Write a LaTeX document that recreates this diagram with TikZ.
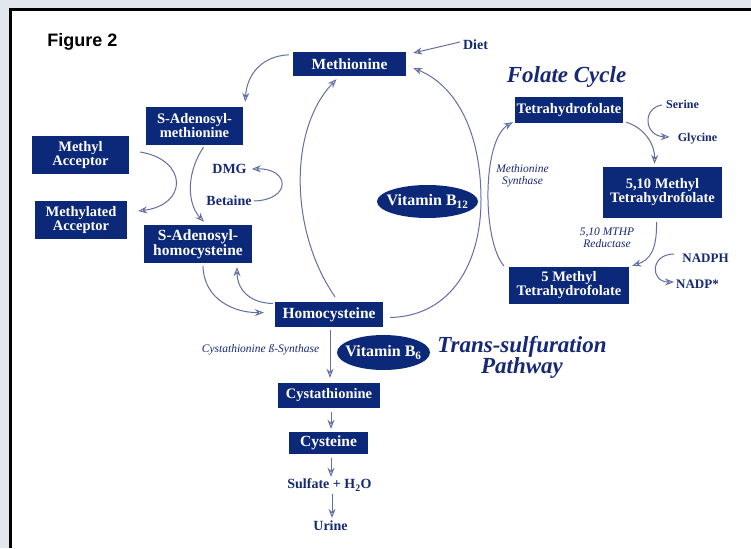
\documentclass[tikz,border=0pt]{standalone}
\usepackage{fontspec}
\setmainfont{Liberation Serif}
\newfontfamily\figsans{Liberation Sans}
\usetikzlibrary{arrows.meta,calc,shapes.geometric}
\definecolor{navy}{RGB}{12,40,120}
\definecolor{labnavy}{RGB}{22,40,118}
\definecolor{linec}{RGB}{100,110,162}
\definecolor{bgout}{RGB}{228,230,238}
\begin{document}
\begin{tikzpicture}[x=1pt,y=-1pt,
  box/.style={fill=navy, text=white, inner sep=0pt, align=center, font=\fontsize{14.5}{14}\selectfont\bfseries},
  boxl/.style={box, font=\fontsize{15.5}{14}\selectfont\bfseries},
  vit/.style={ellipse, fill=navy, text=white, inner xsep=-9pt, inner ysep=0pt, font=\fontsize{16}{16}\selectfont\bfseries},
  lab/.style={text=labnavy, inner sep=0pt, font=\fontsize{14}{14}\selectfont\bfseries},
  labm/.style={text=labnavy, inner sep=0pt, font=\fontsize{13}{13}\selectfont\bfseries},
  labs/.style={text=labnavy, inner sep=0pt, font=\fontsize{12}{12}\selectfont\bfseries},
  enz/.style={text=labnavy, inner sep=0pt, align=center, font=\fontsize{11.5}{12}\selectfont\itshape},
  ttl/.style={text=labnavy, inner sep=0pt, align=center, font=\fontsize{23}{21}\selectfont\bfseries\itshape},
  arr/.style={draw=linec, line width=1pt, -{Stealth[open, length=9pt, width=7pt, inset=3pt]}}
]
\path[use as bounding box] (0,0) rectangle (751,548);
\fill[bgout] (0,0) rectangle (751,548);
\fill[white] (10,10) rectangle (751,548);
\draw[line width=3pt, black] (10,548) -- (10,10) -- (751,10);

% boxes
\node[boxl, minimum width=113pt, minimum height=24pt] (meth) at (349.5,64) {Methionine};
\node[box, minimum width=97pt, minimum height=38pt] (sam) at (194.5,126) {S-Adenosyl-\\methionine};
\node[box, minimum width=97pt, minimum height=38pt] (macc) at (80.5,155) {Methyl\\Acceptor};
\node[box, minimum width=92pt, minimum height=38pt] (mdacc) at (81,220) {Methylated\\Acceptor};
\node[boxl, minimum width=108pt, minimum height=38pt] (sah) at (198,244) {S-Adenosyl-\\homocysteine};
\node[boxl, minimum width=108pt, minimum height=25pt] (hcy) at (329,314.5) {Homocysteine};
\node[box, minimum width=108pt, minimum height=26pt] (thf) at (569,110) {Tetrahydrofolate};
\node[box, minimum width=119pt, minimum height=51pt] (mthf510) at (662.5,192.5) {5,10 Methyl\\Tetrahydrofolate};
\node[box, minimum width=120pt, minimum height=37pt] (mthf5) at (569,285.5) {5 Methyl\\Tetrahydrofolate};
\node[box, minimum width=102pt, minimum height=25pt] (cysta) at (329,395.5) {Cystathionine};
\node[boxl, minimum width=79pt, minimum height=22pt] (cys) at (328.5,443) {Cysteine};

% vitamins
\node[vit, minimum width=101pt, minimum height=33pt] (b12) at (427.5,201.5) {Vitamin B\textsubscript{12}};
\node[vit, minimum width=93pt, minimum height=35pt] (b6) at (383.5,352.5) {Vitamin B\textsubscript{6}};

% labels
\node[font=\figsans\bfseries\fontsize{18}{18}\selectfont, inner sep=0pt] (fig) at (82.5,42) {Figure 2};
\node[lab] (diet) at (475.5,45) {Diet};
\node[lab] (dmg) at (229.5,169) {DMG};
\node[lab] (betaine) at (229,201) {Betaine};
\node[labs] (serine) at (682.5,104) {Serine};
\node[labs] (glycine) at (697.5,139) {Glycine};
\node[labm] (nadph) at (705.5,258) {NADPH};
\node[labm] (nadp) at (697.5,284) {NADP*};
\node[lab] (sulf) at (329.5,485) {Sulfate + H\textsubscript{2}O};
\node[lab] (urine) at (330.5,526) {Urine};
\node[enz] (msyn) at (522.5,176) {Methionine\\Synthase};
\node[enz] (mthpr) at (607,238) {5,10 MTHP\\Reductase};
\node[enz] (cbs) at (260.5,350) {Cystathionine ß-Synthase};
\node[ttl] (folate) at (566.5,77) {Folate Cycle};
\node[ttl] (trans) at (522,357) {Trans-sulfuration\\Pathway};

% connectors
\draw[arr] ($(meth.north west)+(-4,3)$) .. controls (262,56) and (247,74) .. ($(sam.north east)+(2,-5)$);
\draw[arr] ($(sam.south)+(9,2)$) .. controls (185,175) and (188,205) .. ($(sah.north)+(6,-3)$);
\draw[arr] ($(macc.east)+(11,-3)$) .. controls (188,160) and (188,205) .. ($(mdacc.east)+(11,-9)$);
\draw[arr] ($(betaine.east)+(2,0)$) .. controls (292,200) and (290,168) .. ($(dmg.east)+(5,0)$);
\draw[arr] ($(sah.south)+(5,3)$) .. controls (204,300) and (235,313) .. ($(hcy.west)+(-11,-2)$);
\draw[arr] ($(hcy.west)+(-2,-11)$) .. controls (248,303) and (237,288) .. ($(sah.south)+(39,4)$);
\draw[arr] ($(hcy.north)+(6,-5)$) .. controls (290,232) and (288,130) .. ($(meth.south)+(-13,3)$);
\draw[arr] ($(hcy.east)+(7,3)$) .. controls (452,316) and (481,262) .. (481,200) .. controls (481,130) and (455,85) .. ($(meth.east)+(7,4)$);
\draw[arr] ($(mthf5.north west)+(-5,-1)$) .. controls (482,240) and (482,140) .. ($(thf.south west)+(-2,-1)$);
\draw[arr] ($(thf.south east)+(3,-1)$) .. controls (645,128) and (655,145) .. ($(mthf510.north)+(-8,-3)$);
\draw[arr] ($(mthf510.south)+(-6,4)$) .. controls (657,250) and (650,260) .. ($(mthf5.north east)+(3,-1)$);
\draw[arr] ($(serine.west)+(-4,1)$) .. controls (642,108) and (644,136) .. ($(glycine.west)+(-8,-2)$);
\draw[arr] ($(nadph.west)+(-8,-4)$) .. controls (650,254) and (650,282) .. ($(nadp.west)+(-2,-2)$);
\draw[arr] ($(diet.west)+(-3,-3)$) -- ($(meth.east)+(7,-11)$);
\draw[arr] ($(hcy.south)+(1,3)$) -- ($(cysta.north)+(1,-5)$);
\draw[arr] ($(cysta.south)+(2,4)$) -- ($(cys.north)+(2.5,-3)$);
\draw[arr] ($(cys.south)+(2.5,4)$) -- ($(sulf.north)+(1.5,-2)$);
\draw[arr] ($(sulf.south)+(2.5,3)$) -- ($(urine.north)+(1.5,-3)$);
\end{tikzpicture}
\end{document}
